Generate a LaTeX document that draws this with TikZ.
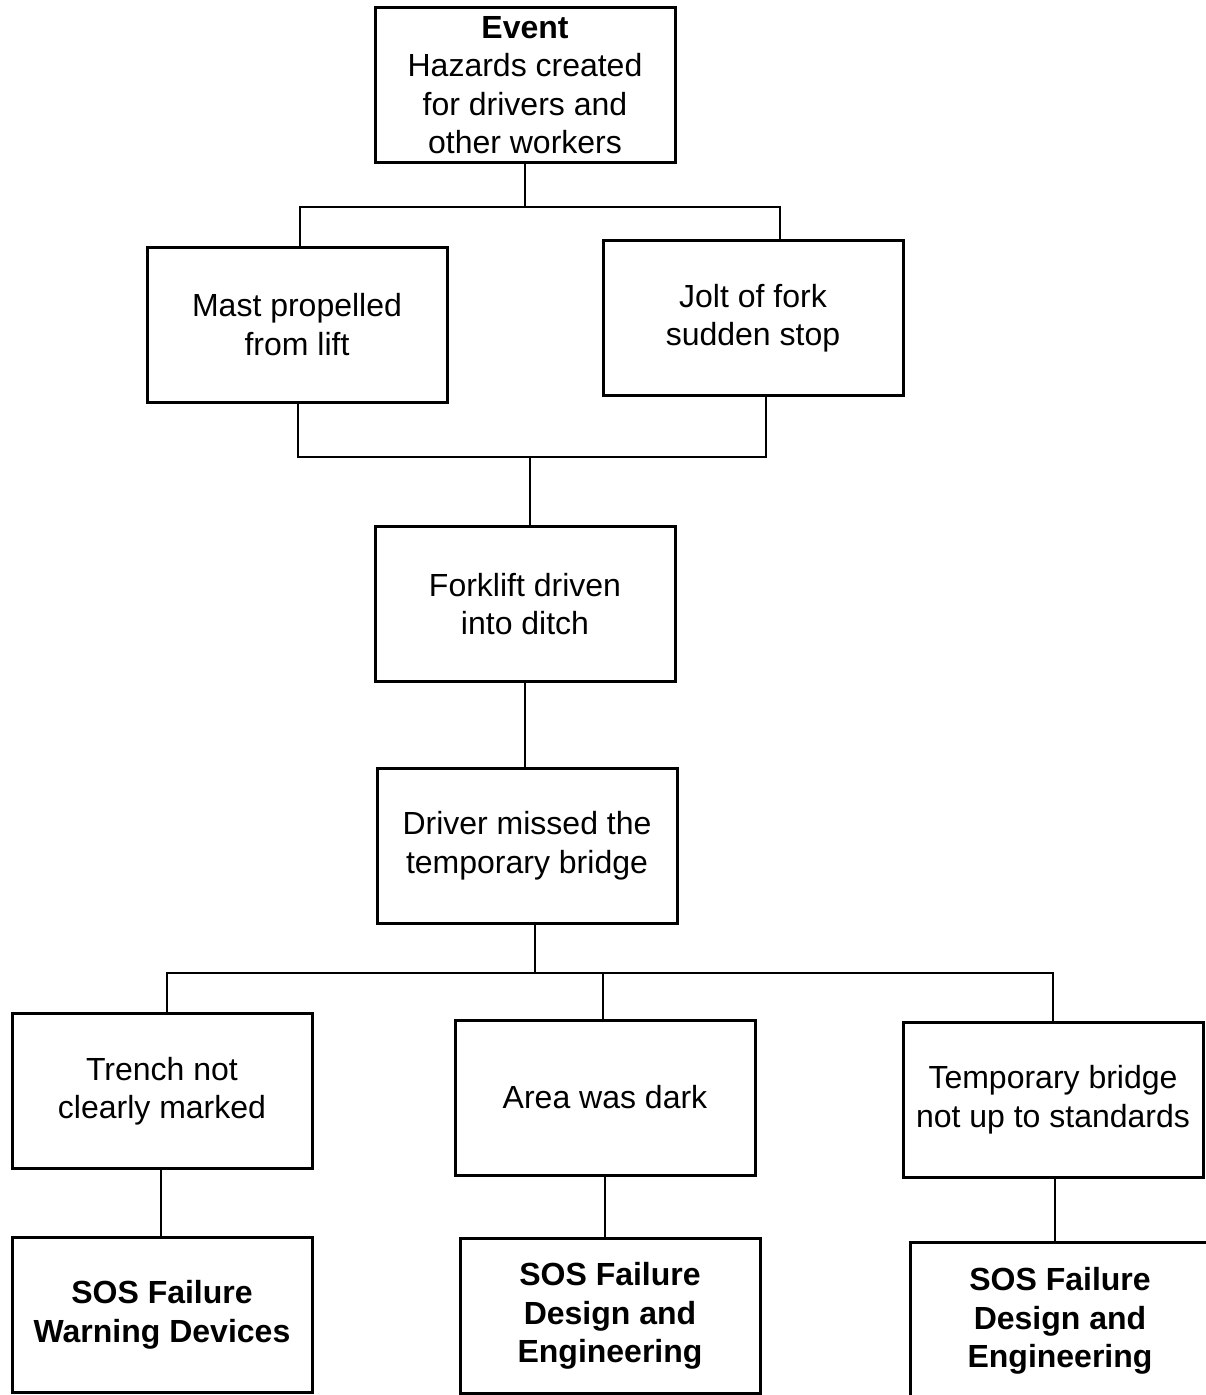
\documentclass[tikz,border=0pt]{standalone}
\usepackage{fontspec}
\setmainfont{Liberation Sans}
\begin{document}
\begin{tikzpicture}[x=1pt,y=-1pt,
  box/.style={draw, line width=3pt, minimum width=300pt, minimum height=155pt, inner sep=0pt, align=center, font=\fontsize{32}{38.5}\selectfont},
  sosbox/.style={box, font=\fontsize{32}{38.5}\selectfont\bfseries},
  conn/.style={line width=2.8pt, line cap=rect}]
\useasboundingbox (0,0) rectangle (1206,1395);
\clip (0,0) rectangle (1206,1395);
\node[box] (ev) at (525,85) {\textbf{Event}\\Hazards created\\for drivers and\\other workers};
\node[box] (mast) at (297,324.5) {Mast propelled\\from lift};
\node[box] (jolt) at (753,318) {Jolt of fork\\sudden stop};
\node[box] (fork) at (525,604) {Forklift driven\\into ditch};
\node[box] (drv) at (527,845.5) {Driver missed the\\temporary bridge};
\node[box] (trench) at (162,1091) {Trench not\\clearly marked};
\node[box] (area) at (605,1097.5) {Area was dark};
\node[box] (temp) at (1053,1099.5) {Temporary bridge\\not up to standards};
\node[sosbox] (s1) at (162,1315) {SOS Failure\\Warning Devices};
\node[sosbox] (s2) at (610,1316) {SOS Failure\\Design and\\Engineering};
\node[sosbox, minimum height=158pt] (s3) at (1060,1321) {SOS Failure\\Design and\\Engineering};
% top junction
\coordinate (h1L) at (300,207);
\coordinate (h1R) at (780,207);
\draw[conn] (ev.south) -- (ev.south |- h1L);
\draw[conn] (h1L |- mast.north) -- (h1L) -- (h1R) -- (h1R |- jolt.north);
% second junction
\coordinate (h2L) at (298,457);
\coordinate (h2R) at (766,457);
\coordinate (h2M) at (530,457);
\draw[conn] (h2L |- mast.south) -- (h2L) -- (h2R) -- (h2R |- jolt.south);
\draw[conn] (h2M) -- (h2M |- fork.north);
% fork to driver
\draw[conn] (fork.south) -- (fork.south |- drv.north);
% third junction
\coordinate (h3L) at (167,973);
\coordinate (h3R) at (1053,973);
\coordinate (h3M) at (535,973);
\coordinate (h3A) at (603,973);
\draw[conn] (h3M |- drv.south) -- (h3M);
\draw[conn] (h3L |- trench.north) -- (h3L) -- (h3R) -- (h3R |- temp.north);
\draw[conn] (h3A) -- (h3A |- area.north);
% to SOS boxes
\coordinate (v1) at (161,0);
\coordinate (v2) at (605,0);
\coordinate (v3) at (1055,0);
\draw[conn] (v1 |- trench.south) -- (v1 |- s1.north);
\draw[conn] (v2 |- area.south) -- (v2 |- s2.north);
\draw[conn] (v3 |- temp.south) -- (v3 |- s3.north);
\end{tikzpicture}
\end{document}
